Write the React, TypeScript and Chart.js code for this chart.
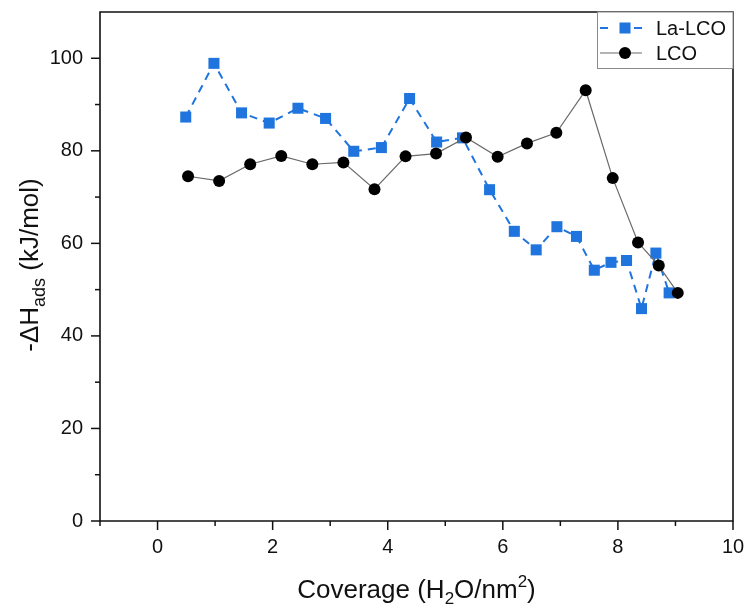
import React, { useEffect, useRef } from "react";
import { Chart, registerables } from "chart.js";

Chart.register(...registerables);

// ---- data ----
const laLcoX = [0.49, 0.98, 1.46, 1.94, 2.44, 2.92, 3.41, 3.89, 4.38, 4.85, 5.3, 5.77, 6.2, 6.58, 6.94, 7.28, 7.59, 7.88, 8.15, 8.41, 8.66, 8.89];
const laLcoY = [87.3, 98.9, 88.2, 86.0, 89.2, 87.0, 79.9, 80.7, 91.3, 81.9, 82.8, 71.6, 62.6, 58.6, 63.6, 61.5, 54.2, 55.9, 56.3, 45.9, 57.9, 49.3];
const lcoX = [0.53, 1.07, 1.61, 2.15, 2.69, 3.23, 3.77, 4.31, 4.84, 5.36, 5.91, 6.42, 6.93, 7.44, 7.91, 8.35, 8.71, 9.04];
const lcoY = [74.5, 73.5, 77.1, 78.9, 77.1, 77.5, 71.7, 78.8, 79.4, 82.9, 78.7, 81.6, 83.9, 93.1, 74.1, 60.2, 55.2, 49.3];

const seriesNames = ["La-LCO", "LCO"];
const xMajorTicks = [0, 2, 4, 6, 8, 10];
const xMinorTicks = [-1, 1, 3, 5, 7, 9];
const yMajorTicks = [0, 20, 40, 60, 80, 100];
const yMinorTicks = [10, 30, 50, 70, 90];
const xRange = [-1, 10];
const yRange = [0, 110];

const FONT = "'Liberation Sans', Arial, sans-serif";
const BLUE = "#1f74de";
const GRAY_LINE = "#6a6a6a";

type Seg = { t: string; shift?: number; small?: boolean };

function drawRich(ctx: CanvasRenderingContext2D, segs: Seg[], size: number, smallSize: number) {
  const widths = segs.map((s) => {
    ctx.font = `${s.small ? smallSize : size}px ${FONT}`;
    return ctx.measureText(s.t).width;
  });
  const total = widths.reduce((a, b) => a + b, 0);
  let x = -total / 2;
  segs.forEach((s, i) => {
    ctx.font = `${s.small ? smallSize : size}px ${FONT}`;
    ctx.fillText(s.t, x, s.shift || 0);
    x += widths[i];
  });
}

const framePlugin = {
  id: "frame",
  afterDraw(chart: any) {
    const { ctx, chartArea: a, scales } = chart;
    const xs = scales.x;
    const ys = scales.y;
    ctx.save();
    ctx.strokeStyle = "#111";
    ctx.lineWidth = 1.6;
    ctx.beginPath();
    ctx.rect(a.left, a.top, a.right - a.left, a.bottom - a.top);
    ctx.stroke();
    const seg = (x1: number, y1: number, x2: number, y2: number) => {
      ctx.beginPath();
      ctx.moveTo(x1, y1);
      ctx.lineTo(x2, y2);
      ctx.stroke();
    };
    ctx.lineWidth = 1.5;
    xMajorTicks.forEach((v) => {
      const p = xs.getPixelForValue(v);
      seg(p, a.bottom, p, a.bottom + 9);
    });
    xMinorTicks.forEach((v) => {
      const p = xs.getPixelForValue(v);
      seg(p, a.bottom, p, a.bottom + 5);
    });
    yMajorTicks.forEach((v) => {
      const p = ys.getPixelForValue(v);
      seg(a.left, p, a.left - 9, p);
    });
    yMinorTicks.forEach((v) => {
      const p = ys.getPixelForValue(v);
      seg(a.left, p, a.left - 5, p);
    });

    // axis titles
    ctx.fillStyle = "#111";
    ctx.textBaseline = "alphabetic";
    ctx.textAlign = "left";
    ctx.save();
    ctx.translate((a.left + a.right) / 2, 598);
    drawRich(
      ctx,
      [
        { t: "Coverage (H" },
        { t: "2", small: true, shift: 6 },
        { t: "O/nm" },
        { t: "2", small: true, shift: -11 },
        { t: ")" },
      ],
      26,
      17
    );
    ctx.restore();
    ctx.save();
    ctx.translate(38, 265);
    ctx.rotate(-Math.PI / 2);
    drawRich(
      ctx,
      [{ t: "-ΔH" }, { t: "ads", small: true, shift: 7 }, { t: " (kJ/mol)" }],
      26,
      18
    );
    ctx.restore();

    // legend
    const bx = 597.5, by = a.top, bw = a.right - 597.5, bh = 56.5;
    ctx.fillStyle = "#fff";
    ctx.fillRect(bx, by, bw, bh);
    ctx.strokeStyle = "#8a8a8a";
    ctx.lineWidth = 1;
    ctx.strokeRect(bx, by, bw, bh);
    const r1 = by + 16, r2 = by + 41;
    // La-LCO
    ctx.strokeStyle = BLUE;
    ctx.lineWidth = 2;
    seg(600, r1, 608, r1);
    seg(634, r1, 642, r1);
    ctx.fillStyle = BLUE;
    ctx.fillRect(625 - 5.5, r1 - 5.5, 11, 11);
    // LCO
    ctx.strokeStyle = GRAY_LINE;
    ctx.lineWidth = 1.2;
    seg(600, r2, 642, r2);
    ctx.fillStyle = "#000";
    ctx.beginPath();
    ctx.arc(625, r2, 6, 0, Math.PI * 2);
    ctx.fill();
    ctx.fillStyle = "#111";
    ctx.font = `20px ${FONT}`;
    ctx.textBaseline = "middle";
    ctx.fillText(seriesNames[0], 656, r1 + 1);
    ctx.fillText(seriesNames[1], 656, r2 + 1);
    ctx.restore();
  },
};

export default function App() {
  const ref = useRef<HTMLCanvasElement | null>(null);
  useEffect(() => {
    if (!ref.current) return;
    const chart = new Chart(ref.current, {
      type: "line",
      data: {
        datasets: [
          {
            label: seriesNames[0],
            data: laLcoX.map((x, i) => ({ x, y: laLcoY[i] })),
            borderColor: BLUE,
            borderWidth: 2,
            borderDash: [8, 6],
            pointStyle: "rect",
            pointRadius: 7.8,
            pointBackgroundColor: BLUE,
            pointBorderColor: BLUE,
            pointBorderWidth: 0,
            tension: 0,
            order: 1,
          },
          {
            label: seriesNames[1],
            data: lcoX.map((x, i) => ({ x, y: lcoY[i] })),
            borderColor: GRAY_LINE,
            borderWidth: 1.2,
            pointStyle: "circle",
            pointRadius: 6,
            pointBackgroundColor: "#000",
            pointBorderColor: "#000",
            pointBorderWidth: 0,
            tension: 0,
            order: 0,
          },
        ],
      },
      options: {
        animation: false,
        responsive: false,
        devicePixelRatio: 1,
        layout: { padding: { top: 12, right: 13, left: 0, bottom: 0 } },
        plugins: { legend: { display: false }, tooltip: { enabled: false } },
        scales: {
          x: {
            type: "linear",
            min: xRange[0],
            max: xRange[1],
            grid: { display: false, drawTicks: false },
            border: { display: false },
            afterBuildTicks: (s: any) => {
              s.ticks = xMajorTicks.map((v) => ({ value: v }));
            },
            afterFit: (s: any) => {
              s.height = 83;
              s.paddingLeft = 0;
              s.paddingRight = 0;
              s.paddingTop = 0;
              s.paddingBottom = 0;
            },
            ticks: {
              padding: 14,
              maxRotation: 0,
              autoSkip: false,
              color: "#111",
              font: { family: FONT, size: 20 },
            },
          },
          y: {
            type: "linear",
            min: yRange[0],
            max: yRange[1],
            grid: { display: false, drawTicks: false },
            border: { display: false },
            afterBuildTicks: (s: any) => {
              s.ticks = yMajorTicks.map((v) => ({ value: v }));
            },
            afterFit: (s: any) => {
              s.width = 100;
              s.paddingLeft = 0;
              s.paddingRight = 0;
              s.paddingTop = 0;
              s.paddingBottom = 0;
            },
            ticks: {
              padding: 17,
              autoSkip: false,
              color: "#111",
              font: { family: FONT, size: 20 },
            },
          },
        },
      },
      plugins: [framePlugin],
    });
    return () => chart.destroy();
  }, []);
  return (
    <canvas
      ref={ref}
      width={746}
      height={604}
      style={{ position: "absolute", left: 0, top: 0, width: 746, height: 604 }}
    />
  );
}
